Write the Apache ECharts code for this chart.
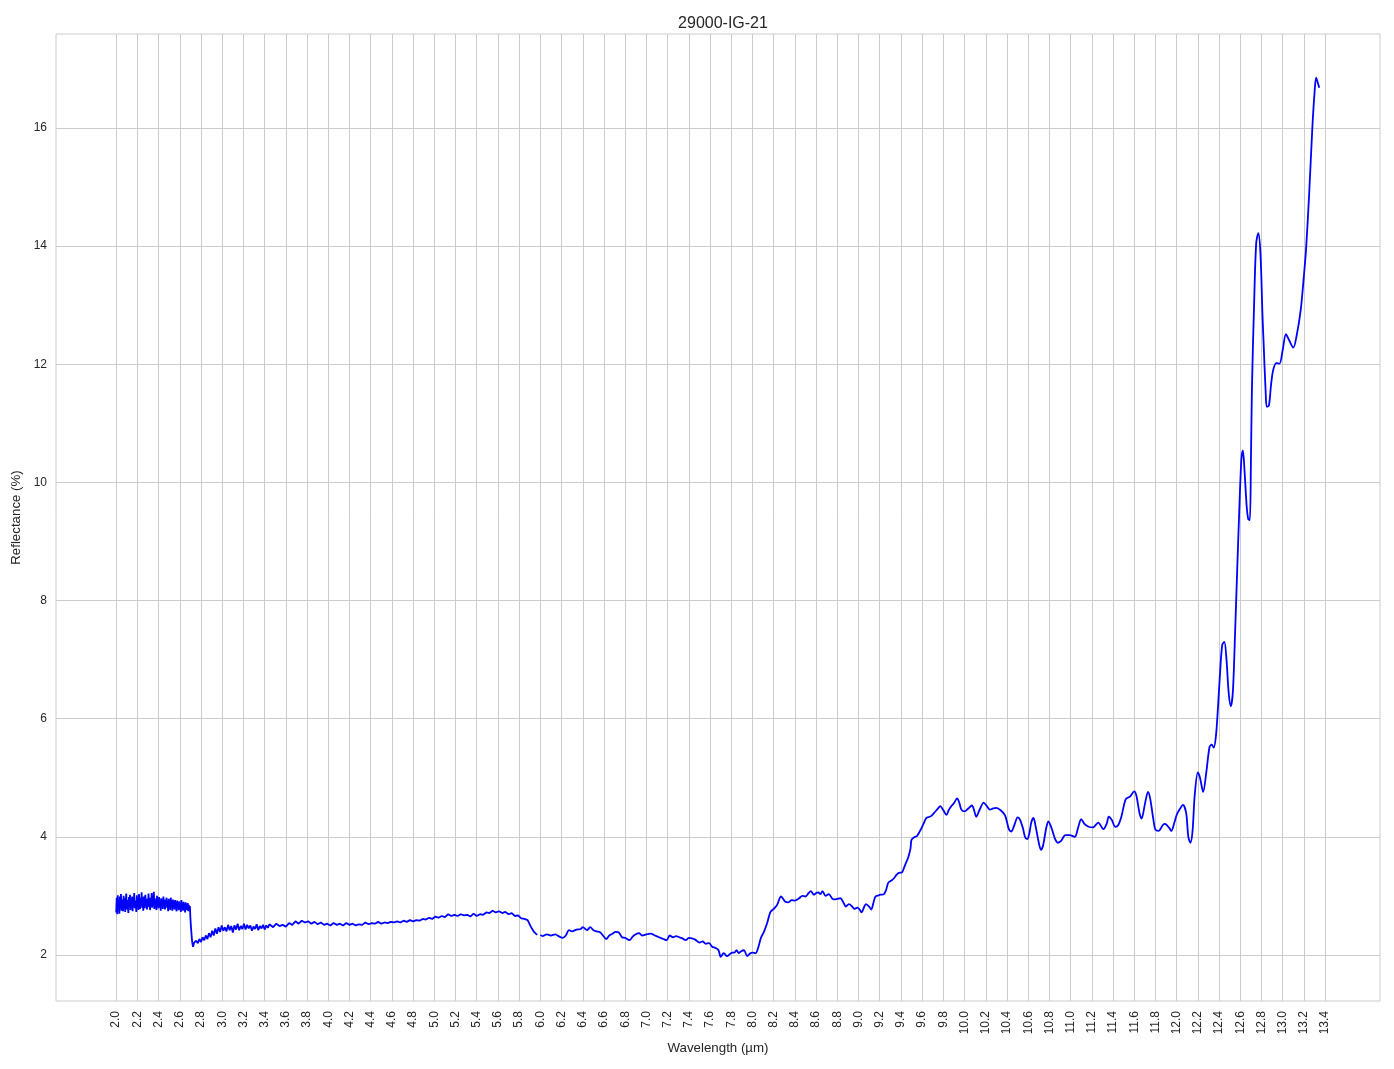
<!DOCTYPE html>
<html>
<head>
<meta charset="utf-8">
<script src="https://cdn.jsdelivr.net/npm/echarts@6/dist/echarts.min.js"></script>
<style>
html,body{margin:0;padding:0;background:#fff;overflow:hidden;}
#chart{width:1394px;height:1069px;}
</style>
</head>
<body>
<div id="chart"></div>
<script>
const chartTitle = '29000-IG-21';
const xAxisName = 'Wavelength (µm)';
const yAxisName = 'Reflectance (%)';
const xTicks = [2.0,2.2,2.4,2.6,2.8,3.0,3.2,3.4,3.6,3.8,4.0,4.2,4.4,4.6,4.8,5.0,5.2,5.4,5.6,5.8,6.0,6.2,6.4,6.6,6.8,7.0,7.2,7.4,7.6,7.8,8.0,8.2,8.4,8.6,8.8,9.0,9.2,9.4,9.6,9.8,10.0,10.2,10.4,10.6,10.8,11.0,11.2,11.4,11.6,11.8,12.0,12.2,12.4,12.6,12.8,13.0,13.2,13.4];
const yTicks = [2,4,6,8,10,12,14,16];

// Segment 1: noisy region 2.000–2.740 µm
const wl1 = [
2.000,2.005,2.010,2.015,2.020,2.025,2.030,2.035,2.040,2.045,2.050,2.055,2.060,2.065,2.070,2.075,2.080,2.085,2.090,2.095,
2.100,2.105,2.110,2.115,2.120,2.125,2.130,2.135,2.140,2.145,2.150,2.155,2.160,2.165,2.170,2.175,2.180,2.185,2.190,2.195,
2.200,2.205,2.210,2.215,2.220,2.225,2.230,2.235,2.240,2.245,2.250,2.255,2.260,2.265,2.270,2.275,2.280,2.285,2.290,2.295,
2.300,2.305,2.310,2.315,2.320,2.325,2.330,2.335,2.340,2.345,2.350,2.355,2.360,2.365,2.370,2.375,2.380,2.385,2.390,2.395,
2.400,2.405,2.410,2.415,2.420,2.425,2.430,2.435,2.440,2.445,2.450,2.455,2.460,2.465,2.470,2.475,2.480,2.485,2.490,2.495,
2.500,2.505,2.510,2.515,2.520,2.525,2.530,2.535,2.540,2.545,2.550,2.555,2.560,2.565,2.570,2.575,2.580,2.585,2.590,2.595,
2.600,2.605,2.610,2.615,2.620,2.625,2.630,2.635,2.640,2.645,2.650,2.655,2.660,2.665,2.670,2.675,2.680,2.685,2.690,2.695,
2.700,2.705,2.710,2.715,2.720,2.725,2.730,2.735,2.740];
const ref1 = [
2.72,2.97,2.69,3.01,2.78,2.92,2.70,2.99,2.83,3.03,2.75,2.94,2.86,2.74,3.00,2.81,2.96,2.73,2.90,3.04,
2.77,2.93,2.82,2.71,2.98,2.85,3.02,2.76,2.91,2.80,2.99,2.74,2.95,2.87,3.05,2.79,2.92,2.83,2.73,3.01,
2.82,2.96,2.76,3.03,2.88,2.78,2.97,2.84,3.06,2.80,2.93,2.75,2.99,2.86,2.79,3.02,2.83,2.95,2.77,2.92,
2.85,3.04,2.81,2.97,2.76,2.94,2.88,3.05,2.80,2.91,2.84,3.07,2.78,2.96,2.83,2.92,2.76,3.00,2.86,2.90,
2.79,2.98,2.83,2.93,2.75,2.96,2.85,2.90,2.78,2.99,2.82,2.94,2.77,2.91,2.86,2.97,2.80,2.89,2.74,2.95,
2.81,2.92,2.76,2.97,2.83,2.88,2.75,2.94,2.80,2.90,2.77,2.93,2.84,2.87,2.74,2.92,2.79,2.89,2.76,2.91,
2.80,2.88,2.73,2.93,2.78,2.86,2.75,2.90,2.81,2.85,2.72,2.89,2.79,2.84,2.76,2.88,2.74,2.85,2.77,2.83,
2.62,2.48,2.36,2.25,2.18,2.14,2.17,2.21,2.19];

// Segment 2: 2.755–6.00 µm
const wl2 = [2.755,2.770,2.785,2.800,2.815,2.830,2.845,2.860,2.875,2.890,2.905,2.920,2.935,2.950,2.965,2.980,2.995,3.010,3.025,3.040,3.055,3.070,3.085,3.100,3.115,3.130,3.145,3.160,3.175,3.190,3.205,3.220,3.235,3.250,3.265,3.280,3.295,3.310,3.325,3.340,3.355,3.370,3.385,3.400,3.415,3.430,3.445,
3.48,3.51,3.54,3.57,3.60,3.63,3.66,3.69,3.72,3.75,3.78,3.81,3.84,3.87,3.90,3.93,3.96,3.99,4.02,4.05,4.08,4.11,4.14,4.17,4.20,4.23,4.26,4.29,4.32,4.35,4.38,4.41,4.44,4.47,4.50,4.53,4.56,4.59,4.62,4.65,4.68,4.71,4.74,4.77,4.80,4.83,4.86,4.89,4.92,4.95,4.98,5.01,5.04,5.07,5.10,5.13,5.16,5.19,5.22,5.25,5.28,5.31,5.34,5.37,5.40,5.43,5.46,5.49,5.52,5.55,5.58,5.61,5.64,5.67,5.70,5.73,5.76,5.79,5.82,5.85,5.88,5.91,5.94,5.97,6.00];
const ref2 = [2.24,2.20,2.27,2.22,2.30,2.25,2.33,2.27,2.37,2.30,2.41,2.33,2.45,2.36,2.47,2.39,2.50,2.41,2.47,2.40,2.51,2.42,2.49,2.38,2.50,2.43,2.53,2.42,2.49,2.44,2.53,2.43,2.51,2.45,2.50,2.41,2.48,2.44,2.52,2.42,2.49,2.45,2.51,2.43,2.50,2.46,2.52,
2.47,2.53,2.49,2.51,2.48,2.54,2.51,2.57,2.53,2.58,2.55,2.57,2.53,2.56,2.52,2.55,2.51,2.53,2.50,2.54,2.51,2.53,2.50,2.54,2.51,2.53,2.50,2.52,2.51,2.55,2.52,2.54,2.53,2.56,2.53,2.55,2.54,2.56,2.55,2.57,2.55,2.58,2.56,2.59,2.57,2.59,2.58,2.61,2.60,2.63,2.61,2.65,2.63,2.66,2.64,2.69,2.66,2.68,2.66,2.69,2.67,2.68,2.65,2.70,2.66,2.69,2.68,2.72,2.71,2.75,2.72,2.74,2.71,2.73,2.69,2.71,2.66,2.67,2.62,2.61,2.59,2.48,2.39,2.34];

// Segment 3: 6.02–13.345 µm
const wl3 = [6.02,6.06,6.10,6.14,6.18,6.21,6.24,6.27,6.30,6.34,6.38,6.40,6.44,6.47,6.50,6.53,6.56,6.59,6.62,6.65,6.68,6.71,6.74,6.77,6.80,6.84,6.87,6.90,6.93,6.96,7.00,7.04,7.08,7.12,7.16,7.19,7.22,7.25,7.28,7.31,7.34,7.37,7.40,7.43,7.46,7.50,7.53,7.56,7.59,7.62,7.65,7.68,7.70,7.73,7.76,7.79,7.81,7.83,7.85,7.87,7.89,7.92,7.95,7.98,8.00,8.03,8.05,8.08,8.11,8.14,8.17,8.20,8.23,8.27,8.31,8.34,8.37,8.40,8.44,8.47,8.50,8.53,8.55,8.58,8.60,8.62,8.64,8.66,8.69,8.72,8.75,8.77,8.80,8.83,8.86,8.88,8.91,8.94,8.96,8.99,9.01,9.03,9.05,9.07,9.10,9.12,9.14,9.16,9.19,9.21,9.24,9.26,9.28,9.31,9.33,9.36,9.38,9.41,9.43,9.45,9.47,9.49,9.50,9.53,9.55,9.58,9.60,9.62,9.64,9.67,9.69,9.72,9.75,9.77,9.80,9.83,9.85,9.88,9.90,9.93,9.95,9.97,10.00,10.03,10.07,10.09,10.11,10.14,10.18,10.21,10.24,10.27,10.30,10.34,10.38,10.40,10.42,10.44,10.47,10.50,10.52,10.55,10.57,10.59,10.61,10.63,10.65,10.67,10.70,10.72,10.74,10.77,10.79,10.82,10.85,10.88,10.91,10.95,10.99,11.04,11.07,11.10,11.13,11.17,11.21,11.26,11.31,11.34,11.36,11.39,11.42,11.45,11.48,11.52,11.56,11.60,11.62,11.65,11.67,11.70,11.73,11.75,11.78,11.80,11.83,11.87,11.89,11.93,11.95,11.98,12.00,12.03,12.06,12.09,12.11,12.13,12.15,12.17,12.20,12.22,12.25,12.28,12.31,12.33,12.35,12.37,12.39,12.41,12.43,12.45,12.47,12.49,12.51,12.53,12.55,12.57,12.59,12.61,12.625,12.64,12.66,12.675,12.69,12.70,12.71,12.73,12.75,12.77,12.79,12.81,12.82,12.84,12.85,12.87,12.89,12.91,12.94,12.97,13.00,13.03,13.06,13.10,13.13,13.17,13.20,13.22,13.25,13.28,13.30,13.315,13.33,13.345];
const ref3 = [2.32,2.35,2.33,2.35,2.31,2.29,2.33,2.42,2.40,2.43,2.44,2.47,2.42,2.47,2.42,2.40,2.39,2.33,2.27,2.33,2.36,2.39,2.38,2.30,2.29,2.25,2.31,2.35,2.37,2.33,2.35,2.36,2.33,2.30,2.27,2.25,2.33,2.30,2.32,2.30,2.28,2.25,2.29,2.28,2.26,2.21,2.23,2.19,2.20,2.14,2.12,2.08,1.97,2.03,1.98,2.02,2.04,2.04,2.08,2.03,2.06,2.08,1.98,2.03,2.04,2.03,2.10,2.29,2.40,2.55,2.73,2.78,2.84,2.99,2.90,2.89,2.93,2.92,2.96,3.00,2.99,3.05,3.08,3.02,3.05,3.06,3.03,3.08,3.00,3.03,2.96,2.94,2.95,2.96,2.88,2.82,2.86,2.82,2.78,2.80,2.77,2.72,2.80,2.86,2.82,2.77,2.88,2.99,3.01,3.02,3.03,3.10,3.22,3.26,3.29,3.36,3.39,3.40,3.48,3.57,3.66,3.80,3.95,4.00,4.01,4.10,4.17,4.25,4.32,4.34,4.36,4.42,4.48,4.52,4.45,4.37,4.45,4.53,4.57,4.65,4.58,4.46,4.43,4.47,4.53,4.45,4.34,4.45,4.58,4.52,4.46,4.48,4.49,4.45,4.37,4.25,4.12,4.09,4.20,4.33,4.30,4.15,4.00,3.96,4.05,4.25,4.32,4.18,3.90,3.78,3.85,4.15,4.26,4.15,3.98,3.90,3.93,4.03,4.03,4.00,4.15,4.30,4.22,4.17,4.16,4.24,4.13,4.22,4.34,4.28,4.17,4.20,4.35,4.64,4.68,4.77,4.70,4.40,4.31,4.55,4.76,4.65,4.30,4.12,4.10,4.20,4.22,4.15,4.10,4.25,4.37,4.47,4.54,4.40,4.00,3.90,4.10,4.70,5.09,5.00,4.76,5.10,5.52,5.56,5.51,5.70,6.20,6.80,7.25,7.30,7.00,6.45,6.21,6.45,7.40,8.47,9.50,10.38,10.54,10.20,9.60,9.38,9.36,10.30,11.60,13.00,14.05,14.22,13.88,12.80,12.36,11.50,11.28,11.30,11.65,11.90,12.02,12.01,12.24,12.51,12.41,12.28,12.47,12.92,13.50,13.94,14.90,16.02,16.59,16.85,16.77,16.68];

const noisyData = wl1.concat(wl2).map((w, i) => [w, ref1.concat(ref2)[i]]);
const smoothData = [[wl2[wl2.length - 1], ref2[ref2.length - 1]]].concat(wl3.map((w, i) => [w, ref3[i]]));

const chart = echarts.init(document.getElementById('chart'), null, {renderer: 'canvas'});
const FONT = 'Liberation Sans, Arial, sans-serif';
const TXT = '#262626';
const GRID = '#cccccc';
const lineStyle = {color: '#0000ff', width: 1.8};
chart.setOption({
  animation: false,
  backgroundColor: '#ffffff',
  title: {
    text: chartTitle, left: 718, top: 11, textAlign: 'center',
    textStyle: {fontFamily: FONT, fontSize: 16, fontWeight: 'normal', color: TXT}
  },
  grid: {left: 56, right: 14, top: 34, bottom: 68, show: true, borderColor: GRID, borderWidth: 1, containLabel: false},
  xAxis: {
    type: 'value', min: 1.4325, max: 13.9175,
    name: xAxisName, nameLocation: 'middle', nameGap: 40,
    nameTextStyle: {fontFamily: FONT, fontSize: 13.3, color: TXT},
    axisLine: {show: false},
    axisTick: {show: false, customValues: xTicks},
    axisLabel: {customValues: xTicks, rotate: 90, margin: 10, fontFamily: FONT, fontSize: 12, color: TXT,
      formatter: v => v.toFixed(1)},
    splitLine: {show: true, lineStyle: {color: GRID, width: 1}}
  },
  yAxis: {
    type: 'value', min: 1.221, max: 17.59,
    name: yAxisName, nameLocation: 'middle', nameGap: 30, nameRotate: 90,
    nameTextStyle: {fontFamily: FONT, fontSize: 13.3, color: TXT},
    axisLine: {show: false},
    axisTick: {show: false, customValues: yTicks},
    axisLabel: {customValues: yTicks, margin: 9, fontFamily: FONT, fontSize: 12, color: TXT,
      formatter: v => String(Math.round(v))},
    splitLine: {show: true, lineStyle: {color: GRID, width: 1}}
  },
  series: [{
    type: 'line', data: noisyData, showSymbol: false, symbol: 'none',
    lineStyle: lineStyle, itemStyle: {color: '#0000ff'}, silent: true
  }, {
    type: 'line', data: smoothData, showSymbol: false, symbol: 'none', smooth: 0.3,
    lineStyle: lineStyle, itemStyle: {color: '#0000ff'}, silent: true
  }]
});
</script>
</body>
</html>
